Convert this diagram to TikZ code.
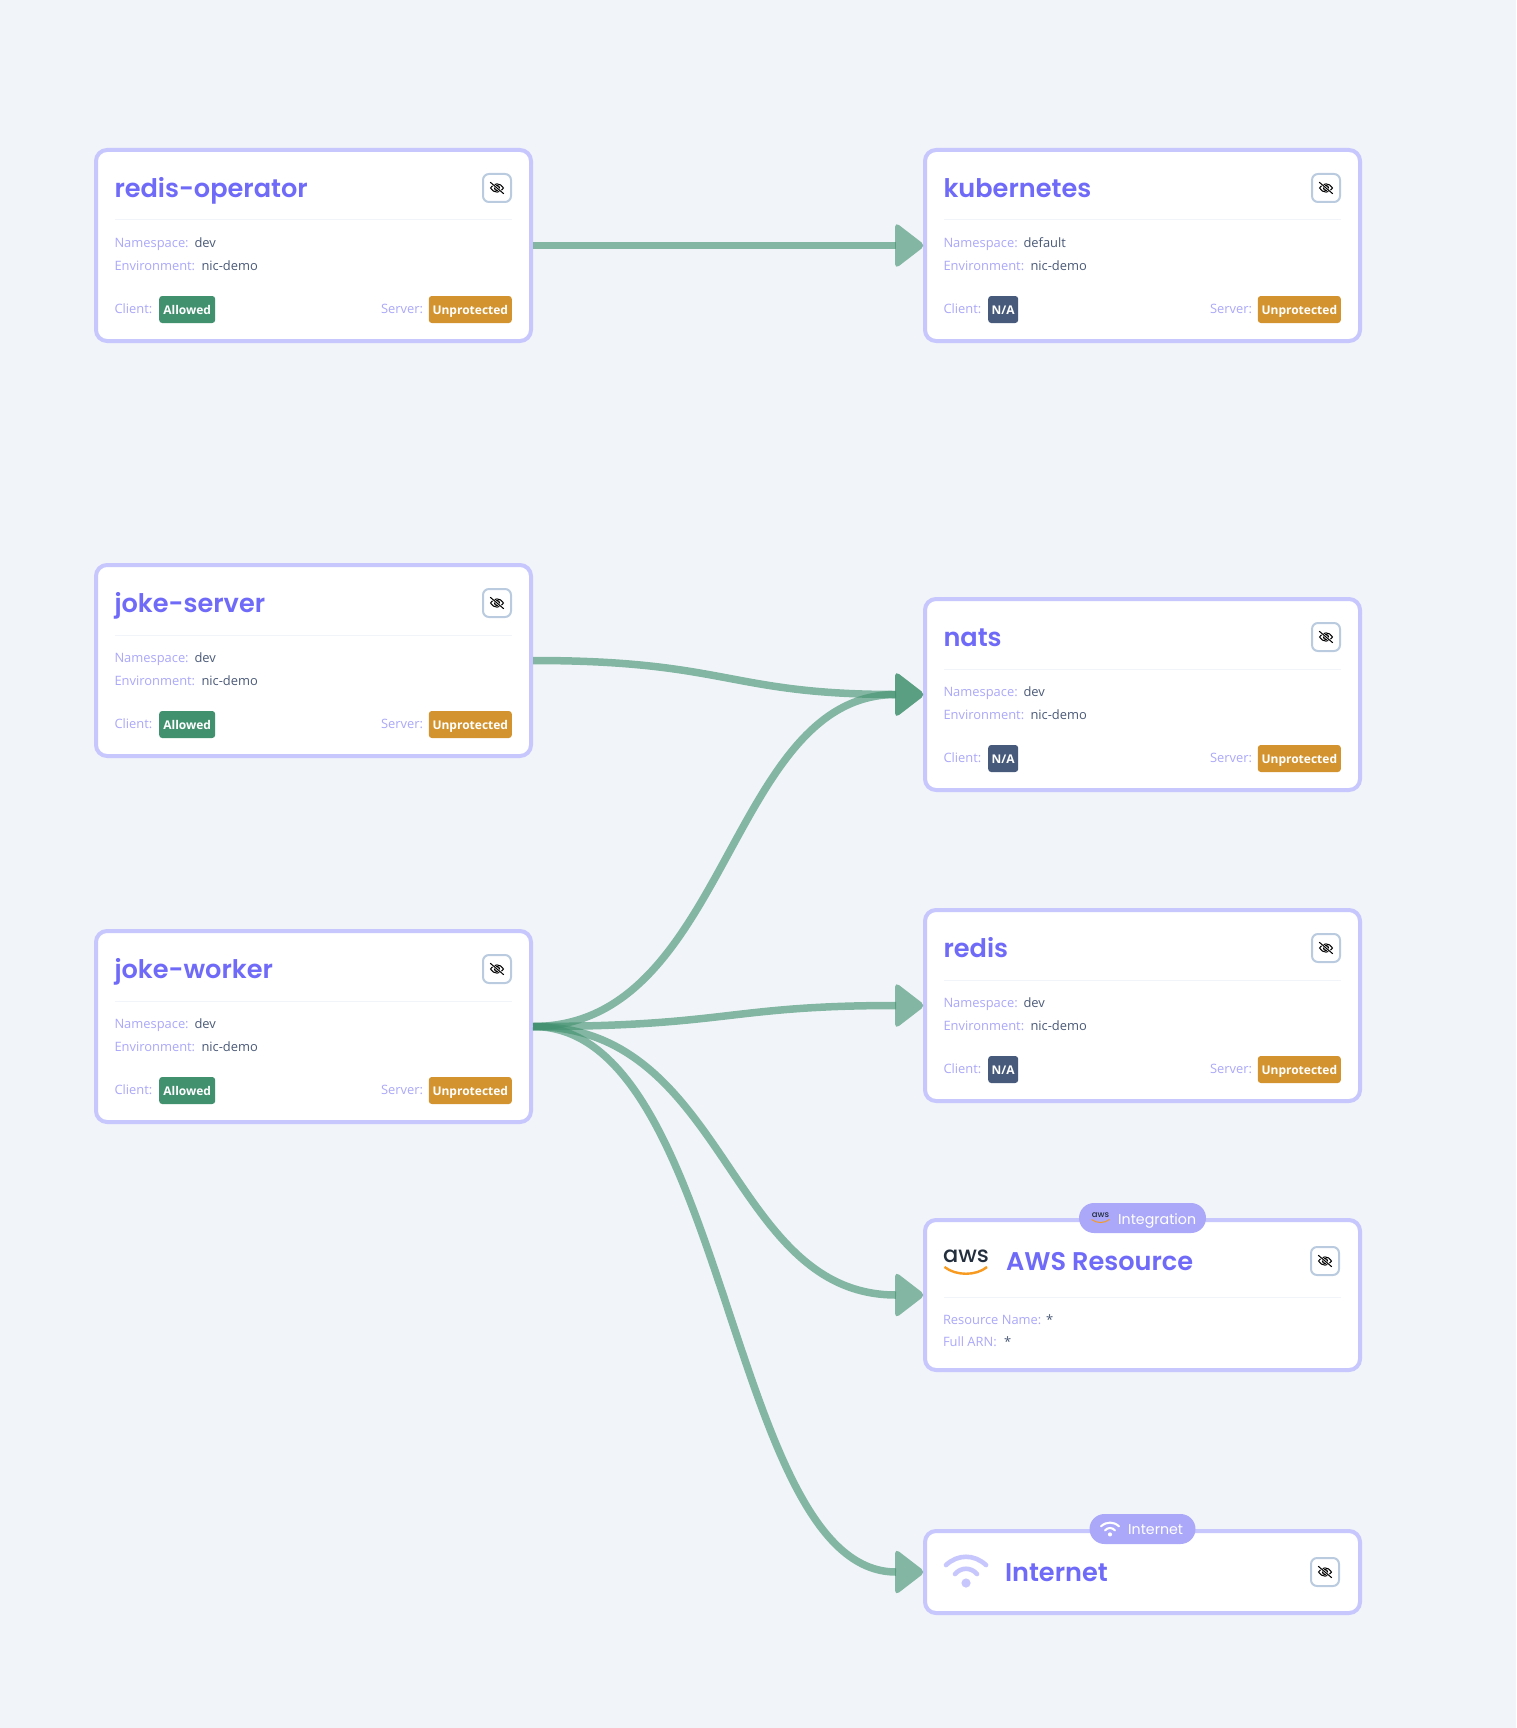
\documentclass[tikz,border=0pt]{standalone}
\usepackage{fontspec}
\usetikzlibrary{calc,arrows.meta}
\setmainfont{Open Sans}
\newfontfamily\headfont{Poppins}
\newfontfamily\titlefont{Poppins SemiBold}
\newfontfamily\logofont{Poppins Medium}
\definecolor{bgc}{HTML}{F1F4F9}
\definecolor{borderc}{HTML}{C7C7FE}
\definecolor{titlec}{HTML}{6F6AF8}
\definecolor{labelc}{HTML}{ABA8F9}
\definecolor{valuec}{HTML}{4B5A78}
\definecolor{allowedc}{HTML}{41916F}
\definecolor{warnc}{HTML}{D39430}
\definecolor{nac}{HTML}{475A7C}
\definecolor{pillc}{HTML}{ABA8FA}
\definecolor{btnc}{HTML}{BACBE0}
\definecolor{awsdark}{HTML}{232F3E}
\definecolor{awsorange}{HTML}{F79A1F}
\tikzset{
  card/.style={draw=borderc,fill=white,line width=4pt,rounded corners=11pt,minimum width=435pt,inner sep=0pt},
  txt/.style={inner sep=0pt,outer sep=0pt,anchor=base west,font=\fontsize{12.9}{15}\selectfont},
  lbl/.style={txt,text=labelc},
  val/.style={txt,text=valuec},
  cardtitle/.style={inner sep=0pt,outer sep=0pt,anchor=base west,text=titlec,font=\titlefont\fontsize{25.6}{30}\selectfont},
  badge/.style={rounded corners=3pt,inner sep=0pt,minimum height=27pt,text height=12pt,text depth=3pt,text=white,font=\fontsize{12}{15}\selectfont\bfseries},
  pill/.style={fill=pillc,rounded corners=15pt,inner sep=0pt,minimum height=30pt,text=white},
  pilltext/.style={inner sep=0pt,anchor=base west,text=white,font=\headfont\fontsize{14.2}{16}\selectfont},
  btn/.style={draw=btnc,fill=white,line width=2pt,rounded corners=6pt,minimum width=28pt,minimum height=28pt,inner sep=0pt},
  hrule/.style={draw=bgc,line width=1pt},
  flow/.style={draw=allowedc,opacity=.62,line width=7.5pt,shorten >=27pt},
  flowhead/.style={fill=allowedc,opacity=.62,rounded corners=5pt},
  pics/eyeoff/.style={code={
    \draw[black,line width=1pt] (-6.5,0) .. controls (-3.5,-5.5) and (3.5,-5.5) .. (6.5,0) .. controls (3.5,5.5) and (-3.5,5.5) .. (-6.5,0) -- cycle;
    \draw[black,line width=1pt,fill=black!60] (0,0) circle (2.6pt);
    \draw[white,line width=2.2pt] (-6,-5) -- (6,5);
    \draw[black,line width=1pt] (-6.8,-5.8) -- (6.8,5.8);
  }},
  pics/wifiicon/.style={code={
    \draw[line cap=round,line width=#1*4.6pt,draw=\wificol] (-20*#1,-6*#1) .. controls (-8*#1,-17*#1) and (8*#1,-17*#1) .. (20*#1,-6*#1);
    \draw[line cap=round,line width=#1*4.6pt,draw=\wificol] (-11*#1,3*#1) .. controls (-5*#1,-4*#1) and (5*#1,-4*#1) .. (11*#1,3*#1);
    \fill[\wificol] (0,12*#1) circle (4.6pt*#1);
  }},
}
\newcommand{\eyebtn}[3]{\node[btn] (#1) at (#2,#3) {}; \pic at (#1.center) {eyeoff};}
\newcommand{\wificol}{borderc}
% card: name, left, top, title, namespace, environment, client text, client colour, client width
\newcommand{\workload}[9]{
  \node[card,minimum height=191pt] (#1) at (#2+219.5,#3+97.5) {};
  \node[cardtitle] (#1-t) at (#2+20.5,#3+49.5) {#4};
  \eyebtn{#1-e}{#2+403}{#3+40}
  \draw[hrule] (#2+21,#3+72) -- (#2+418,#3+72);
  \node[lbl] (#1-nl) at (#2+20.5,#3+99.5) {Namespace:};
  \node[val] (#1-nv) at (#2+100.5,#3+99.5) {#5};
  \node[lbl] (#1-el) at (#2+20.5,#3+122) {Environment:};
  \node[val] (#1-ev) at (#2+107.5,#3+122) {#6};
  \node[lbl] (#1-cl) at (#2+20.5,#3+165.5) {Client:};
  \node[badge,fill=#8,minimum width=#9pt,anchor=west] (#1-cb) at (#2+65,#3+161.5) {#7};
  \node[lbl,anchor=base east] (#1-sl) at (#2+329,#3+165.5) {Server:};
  \node[badge,fill=warnc,minimum width=83pt,anchor=east] (#1-sb) at (#2+418,#3+161.5) {Unprotected};
}
\newcommand{\flowedge}[2]{
  \draw[flow] (#1.east) .. controls ($(#1.east)!.5!(#2.west |- #1.east)$) and ($(#2.west)!.5!(#1.east |- #2.west)$) .. (#2.west);
  \fill[flowhead] ($(#2.west)+(2.5,0)$) -- ++(-30.5,-23.5) -- ++(0,47) -- cycle;
}
\begin{document}
\begin{tikzpicture}[x=1pt,y=-1pt]
\useasboundingbox (0,0) rectangle (1516,1728);
\fill[bgc] (0,0) rectangle (1516,1728);

\workload{redisop}{94}{148}{redis-operator}{dev}{nic-demo}{Allowed}{allowedc}{56}
\workload{jokeserver}{94}{563}{joke-server}{dev}{nic-demo}{Allowed}{allowedc}{56}
\workload{jokeworker}{94}{929}{joke-worker}{dev}{nic-demo}{Allowed}{allowedc}{56}
\workload{kube}{923}{148}{kubernetes}{default}{nic-demo}{N/A}{nac}{30}
\workload{nats}{923}{597}{nats}{dev}{nic-demo}{N/A}{nac}{30}
\workload{redis}{923}{908}{redis}{dev}{nic-demo}{N/A}{nac}{30}

% AWS resource
\node[card,minimum height=150pt] (aws) at (1142.5,1295) {};
\node[pill,minimum width=127pt] (awspill) at (1142.5,1218) {};
\node[inner sep=0pt,text=awsdark,font=\logofont\fontsize{8.5}{8}\selectfont] (awspilllogo) at (1100.5,1215.5) {aws};
\draw[awsorange,line width=1pt] (1091.5,1219.5) .. controls (1097,1223.5) and (1104,1223.5) .. (1109.5,1219.5);
\node[pilltext] (awspilltext) at (1118,1224) {Integration};
\node[inner sep=0pt,anchor=base,text=awsdark,font=\logofont\fontsize{22.5}{24}\selectfont] (awslogo) at (966,1262) {aws};
\draw[awsorange,line width=2.4pt] (944.5,1267) .. controls (956,1276) and (976,1276) .. (987,1267);
\node[cardtitle] (aws-t) at (1006,1270) {AWS Resource};
\eyebtn{aws-e}{1325}{1261}
\draw[hrule] (944,1297) -- (1341,1297);
\node[lbl] (aws-rl) at (943,1324) {Resource Name:};
\node[val] (aws-rv) at (1046,1324) {*};
\node[lbl] (aws-al) at (943,1346) {Full ARN:};
\node[val] (aws-av) at (1004,1346) {*};

% Internet
\node[card,minimum height=82pt] (inet) at (1142.5,1572) {};
\node[pill,minimum width=106pt] (inetpill) at (1142.5,1529) {};
\begin{scope}
\renewcommand{\wificol}{white}
\pic at (1110,1529) {wifiicon=.45};
\end{scope}
\node[pilltext] (inetpilltext) at (1128,1534.5) {Internet};
\pic at (966,1571) {wifiicon=1};
\node[cardtitle] (inet-t) at (1005,1581) {Internet};
\eyebtn{inet-e}{1325}{1572}

% connectors
\flowedge{redisop}{kube}
\flowedge{jokeserver}{nats}
\flowedge{jokeworker}{nats}
\flowedge{jokeworker}{redis}
\flowedge{jokeworker}{aws}
\flowedge{jokeworker}{inet}
\end{tikzpicture}
\end{document}
